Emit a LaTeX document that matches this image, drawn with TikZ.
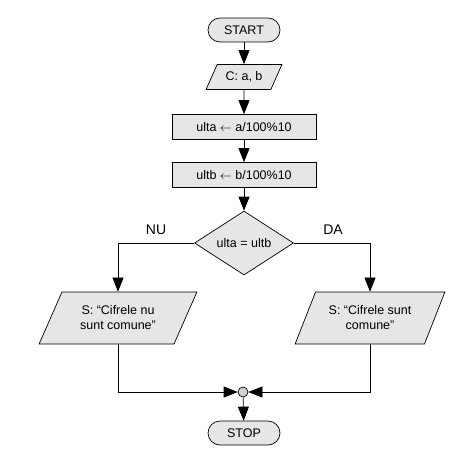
\documentclass[tikz,border=0pt]{standalone}
\usepackage{fontspec}
\setmainfont{Liberation Sans}
\usetikzlibrary{arrows.meta,shapes.geometric}
\definecolor{boxgray}{RGB}{230,230,230}

\begin{document}
\begin{tikzpicture}[x=1pt,y=-1pt,
  font=\fontsize{12.5}{15}\selectfont,
  line width=0.7pt,
  term/.style={draw,rounded corners=12pt,fill=boxgray,minimum width=72pt,
               minimum height=24pt,inner sep=2pt},
  proc/.style={draw,fill=boxgray,minimum width=144pt,minimum height=25pt,inner sep=2pt},
  io/.style={draw,fill=boxgray,trapezium,trapezium left angle=60,
             trapezium right angle=120,trapezium stretches=true,
             align=center,inner sep=2pt},
  cond/.style={draw,fill=boxgray,diamond,minimum width=99pt,minimum height=64pt,
               inner sep=0pt},
  dot/.style={draw,circle,fill=boxgray!80!gray,minimum size=10pt,inner sep=0pt},
  lbl/.style={font=\fontsize{14}{16}\selectfont},
  flow/.style={-{Triangle[length=14pt,width=11pt]}}]
\useasboundingbox (0,0) rectangle (470,460);

% ---- nodes ------------------------------------------------------------
\node[term] (start) at (244,30) {START};
\node[io,minimum width=76pt,minimum height=25pt] (read) at (244,77) {C: a, b};
\node[proc] (ulta) at (244,127) {ulta $\leftarrow$ a/100\%10};
\node[proc] (ultb) at (244,175) {ultb $\leftarrow$ b/100\%10};
\node[cond] (test) at (244,243) {ulta = ultb};
\node[io,minimum width=158pt,minimum height=52pt] (no) at (118,318)
  {S: “Cifrele nu\\sunt comune”};
\node[io,minimum width=150pt,minimum height=52pt] (yes) at (370,318)
  {S: “Cifrele sunt\\comune”};
\node[dot] (join) at (243,392) {};
\node[term] (stop) at (244,433) {STOP};

% ---- branch labels ----------------------------------------------------
\node[lbl] (nu) at (156,230) {NU};
\node[lbl] (da) at (333,230) {DA};

% ---- edges ------------------------------------------------------------
\draw[flow] (start) -- (read);
\draw[flow] (read) -- (ulta);
\draw[flow] (ulta) -- (ultb);
\draw[flow] (ultb) -- (test);
\draw[flow] (test.west) -| (no);
\draw[flow] (test.east) -| (yes);
\draw[flow] (no) |- (join);
\draw[flow] (yes) |- (join);
\draw[flow] (join) -- (stop);
\end{tikzpicture}
\end{document}
